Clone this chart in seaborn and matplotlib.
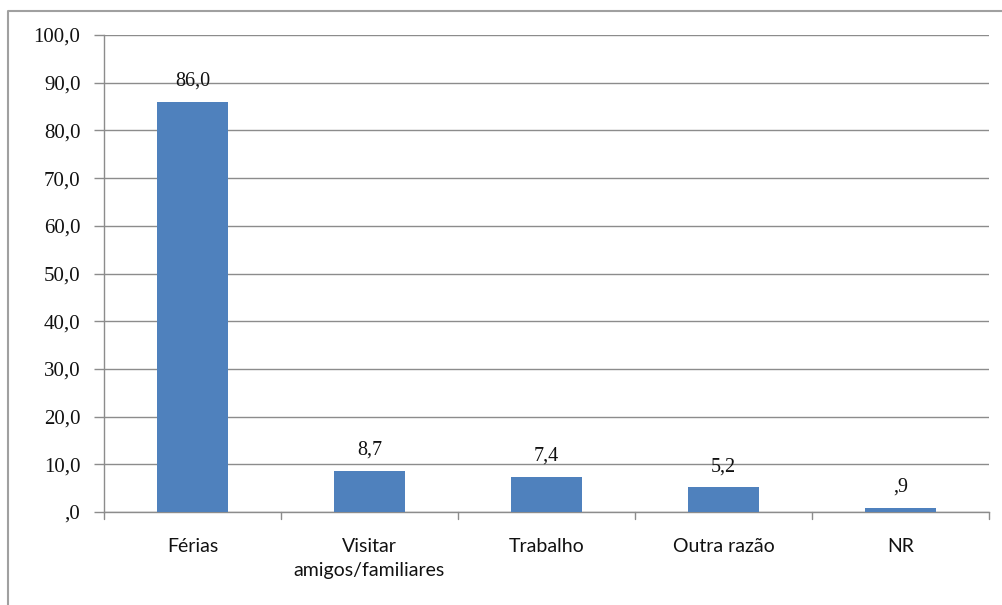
import matplotlib
matplotlib.use("Agg")
import matplotlib.pyplot as plt
import seaborn as sns
import pandas as pd
from matplotlib.lines import Line2D
from matplotlib.ticker import FixedLocator, FuncFormatter

# ── Data ──────────────────────────────────────────────────────────────────────
categories = ["Férias", "Visitar\namigos/familiares", "Trabalho", "Outra razão", "NR"]
values = [86.0, 8.7, 7.4, 5.2, 0.9]
y_ticks = [0, 10, 20, 30, 40, 50, 60, 70, 80, 90, 100]

BAR_COLOR = "#4F81BD"
GRID_COLOR = "#8c8c8c"
W, H = 1003, 605


def pt_fmt(v):
    # Excel-style "#,0" formatting: comma decimal, no leading zero
    s = f"{v:.1f}".replace(".", ",")
    if s.startswith("0,"):
        s = s[1:]
    return s


def main():
    sns.set_theme(style="white")
    plt.rcParams["font.family"] = ["Lato", "DejaVu Sans"]

    df = pd.DataFrame({"cat": categories, "val": values})

    fig = plt.figure(figsize=(W / 100, H / 100), dpi=100)
    ax = fig.add_axes([104 / W, 1 - 512 / H, (989 - 104) / W, (512 - 35) / H])

    sns.barplot(data=df, x="cat", y="val", color=BAR_COLOR, width=0.4,
                saturation=1, linewidth=0, ax=ax, zorder=3)

    ax.set_ylim(0, 100)
    ax.set_xlim(-0.5, len(categories) - 0.5)
    ax.yaxis.set_major_locator(FixedLocator(y_ticks))
    ax.yaxis.set_major_formatter(FuncFormatter(lambda v, p: pt_fmt(v)))
    ax.yaxis.grid(True, color=GRID_COLOR, linewidth=1, zorder=0)
    ax.set_axisbelow(True)

    for lab in ax.get_yticklabels():
        lab.set_fontfamily("Liberation Serif")
        lab.set_fontsize(15)
        lab.set_color("#111111")

    for lab in ax.get_xticklabels():
        lab.set_linespacing(1.45)

    ax.set_xlabel("")
    ax.set_ylabel("")
    ax.tick_params(axis="x", length=0, pad=19, labelsize=14, colors="#111111")
    ax.tick_params(axis="y", left=True, length=7, width=1, color=GRID_COLOR, pad=10)

    # category boundary tick marks below the axis
    for b in range(len(categories) + 1):
        ax.plot([b - 0.5, b - 0.5], [0, -1.4], color=GRID_COLOR, lw=1,
                clip_on=False, zorder=4)

    for s in ["top", "right"]:
        ax.spines[s].set_visible(False)
    for s in ["left", "bottom"]:
        ax.spines[s].set_color(GRID_COLOR)
        ax.spines[s].set_linewidth(1)

    # data labels
    for i, v in enumerate(values):
        ax.text(i, v + 4.3, pt_fmt(v), ha="center", va="center",
                fontsize=14.5, fontfamily="Liberation Serif", color="#111111")

    # outer chart frame (only top and left edges are visible in the crop)
    fig.add_artist(Line2D([8 / W, 8 / W, 1], [0, 1 - 11 / H, 1 - 11 / H],
                          transform=fig.transFigure, color="#a0a0a0", lw=1.5))

    fig.savefig("out.png", dpi=100)


if __name__ == "__main__":
    main()
